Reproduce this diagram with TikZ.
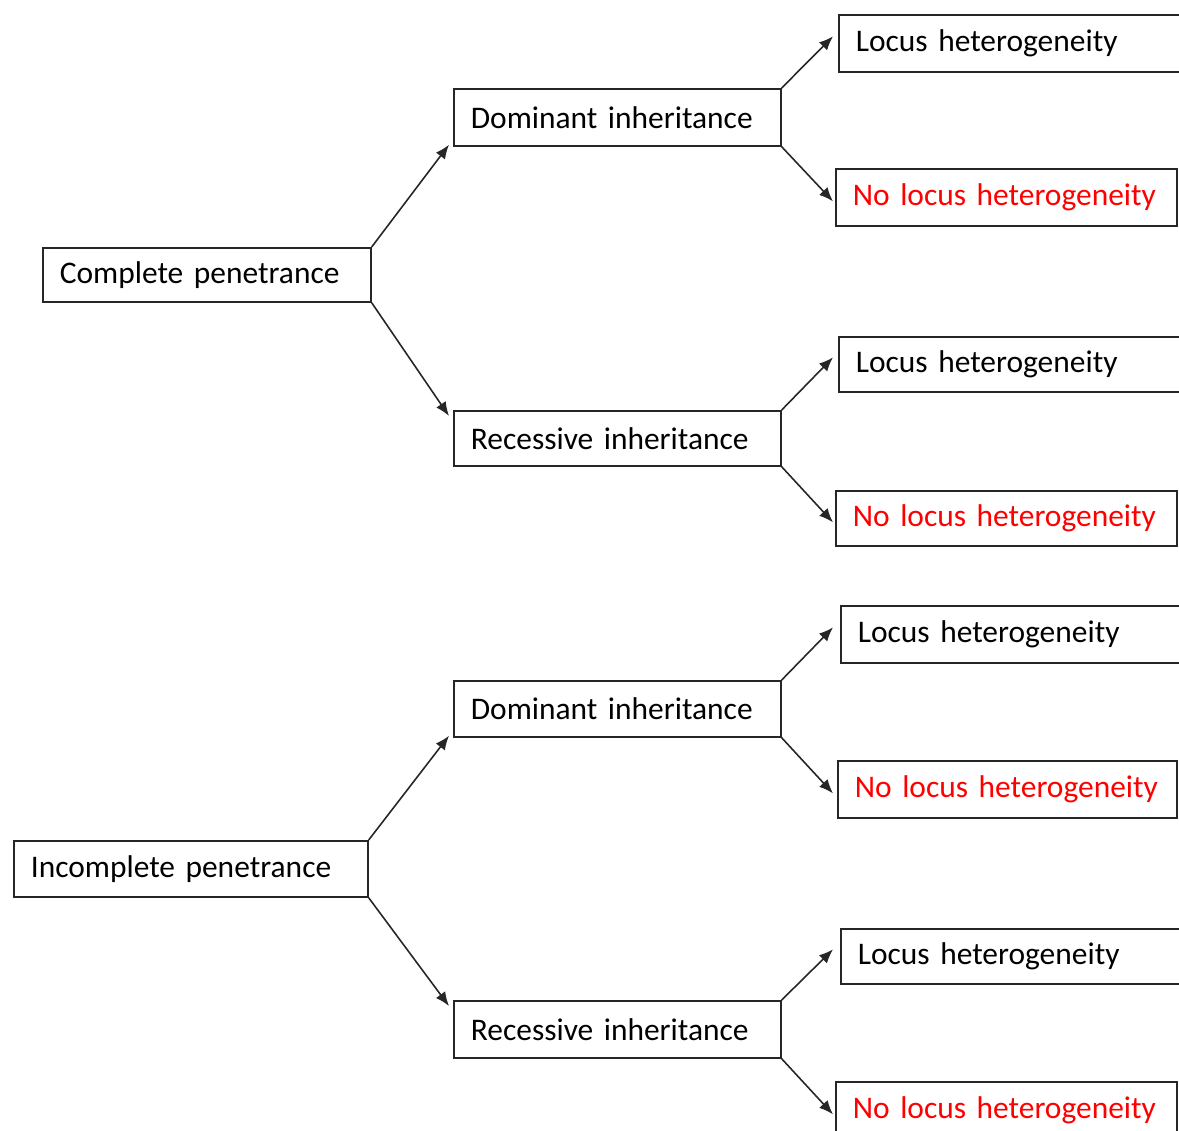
\documentclass[tikz,border=0pt]{standalone}
\usepackage{fontspec}
\setmainfont{Carlito}
\usepackage{xcolor}
\usetikzlibrary{arrows}
\usetikzlibrary{arrows.meta}
\newcommand{\lochet}{Locus heterogeneity}
\newcommand{\nolochet}{\textcolor{red}{No locus heterogeneity}}

\begin{document}
\begin{tikzpicture}[x=0.02cm,y=-0.02cm,
  box/.style={draw=black!85,line width=1pt,anchor=north west,minimum height=1.12cm,
    inner xsep=0.34cm,align=left,font=\fontsize{17.9}{21}\selectfont},
  arr/.style={line width=0.9pt,draw=black!85,arrows={-Latex[length=8pt,width=6.5pt]}}]
\useasboundingbox (0,0) rectangle (1179,1131);
\clip (0,0) rectangle (1179,1131);
\node[box,text width=5.88cm,minimum height=1.08cm] (cp) at (42,247) {Complete penetrance};
\node[box,text width=6.40cm] (ip) at (13,840) {Incomplete penetrance};
\node[box,text width=5.86cm,minimum height=1.14cm] (dom1) at (453,88) {Dominant inheritance};
\node[box,text width=5.86cm,minimum height=1.10cm] (rec1) at (453,410) {Recessive inheritance};
\node[box,text width=5.86cm] (dom2) at (453,680) {Dominant inheritance};
\node[box,text width=5.86cm,minimum height=1.14cm] (rec2) at (453,1000) {Recessive inheritance};
\node[box,text width=6.80cm,minimum height=1.14cm] (loc1) at (838,14) {\lochet};
\node[box,text width=6.14cm,minimum height=1.14cm] (nol1) at (835,168) {\nolochet};
\node[box,text width=6.80cm,minimum height=1.10cm] (loc2) at (838,336) {\lochet};
\node[box,text width=6.14cm,minimum height=1.10cm] (nol2) at (835,490) {\nolochet};
\node[box,text width=6.80cm,minimum height=1.14cm] (loc3) at (840,605) {\lochet};
\node[box,text width=6.10cm,minimum height=1.14cm] (nol3) at (837,760) {\nolochet};
\node[box,text width=6.80cm,minimum height=1.10cm] (loc4) at (840,928) {\lochet};
\node[box,text width=6.14cm,minimum height=1.14cm] (nol4) at (835,1081) {\nolochet};
% penetrance -> mode of inheritance
\draw[arr] (cp.north east) -- ([shift={(-0.08cm,0.04cm)}]dom1.south west);
\draw[arr] (cp.south east) -- ([shift={(-0.08cm,-0.12cm)}]rec1.north west);
\draw[arr] (ip.north east) -- ([shift={(-0.08cm,0.04cm)}]dom2.south west);
\draw[arr] (ip.south east) -- ([shift={(-0.08cm,-0.12cm)}]rec2.north west);
% inheritance -> heterogeneity
\draw[arr] (dom1.north east) -- ([shift={(-0.1cm,0.14cm)}]loc1.west);
\draw[arr] (dom1.south east) -- ([shift={(-0.04cm,-0.08cm)}]nol1.west);
\draw[arr] (rec1.north east) -- ([shift={(-0.1cm,0.14cm)}]loc2.west);
\draw[arr] (rec1.south east) -- ([shift={(-0.04cm,-0.08cm)}]nol2.west);
\draw[arr] (dom2.north east) -- ([shift={(-0.14cm,0.14cm)}]loc3.west);
\draw[arr] (dom2.south east) -- ([shift={(-0.08cm,-0.08cm)}]nol3.west);
\draw[arr] (rec2.north east) -- ([shift={(-0.14cm,0.14cm)}]loc4.west);
\draw[arr] (rec2.south east) -- ([shift={(-0.04cm,-0.08cm)}]nol4.west);
\end{tikzpicture}
\end{document}
